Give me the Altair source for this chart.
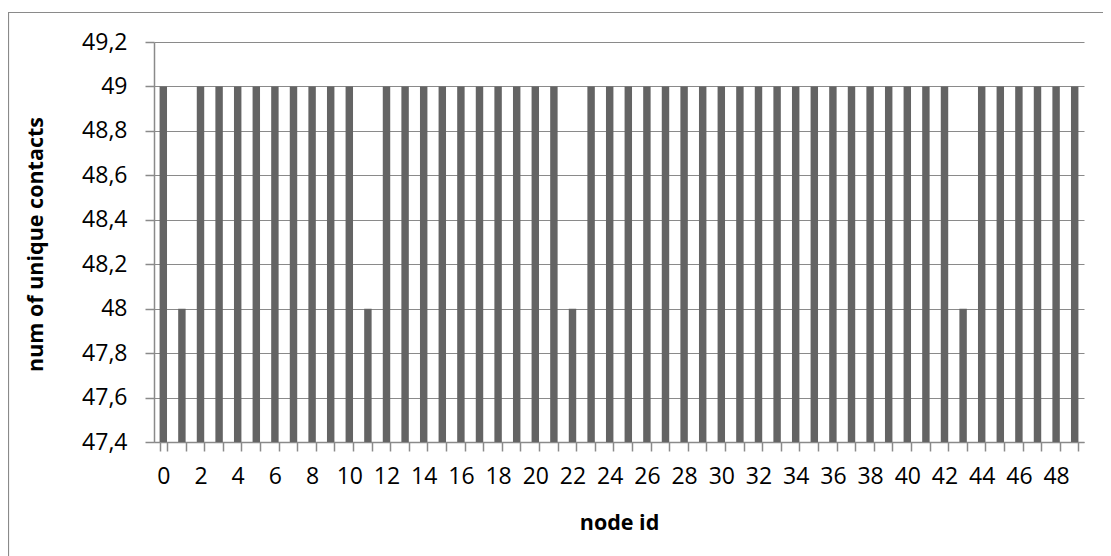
import altair as alt
import pandas as pd

node_ids = list(range(50))
contacts = [49, 48, 49, 49, 49, 49, 49, 49, 49, 49,
            49, 48, 49, 49, 49, 49, 49, 49, 49, 49,
            49, 49, 48, 49, 49, 49, 49, 49, 49, 49,
            49, 49, 49, 49, 49, 49, 49, 49, 49, 49,
            49, 49, 49, 48, 49, 49, 49, 49, 49, 49]

df = pd.DataFrame({"node": node_ids, "contacts": contacts})

FONT = "Open Sans"
GRAY = "#8a8a8a"

border = alt.Chart(alt.Data(values=[{"k": 1}])).mark_rect(
    fillOpacity=0, stroke=GRAY, strokeWidth=1.2, clip=False
).encode(
    x=alt.value(-145.5), x2=alt.value(1200),
    y=alt.value(-29.5), y2=alt.value(700)
)

bars = alt.Chart(df).mark_bar(color="#646464", clip=True).encode(
    x=alt.X("node:O",
            scale=alt.Scale(paddingInner=0.6, paddingOuter=0.3),
            axis=alt.Axis(
                title="node id", labelAngle=0,
                labelExpr="datum.value % 2 == 0 ? datum.label : ''",
                labelOverlap=False, tickBand="extent",
                tickSize=9, tickColor=GRAY, domainColor=GRAY,
                labelPadding=14, labelFontSize=23, labelFont=FONT,
                labelColor="black",
                titleFont=FONT, titleFontSize=21.5, titleFontWeight="bold",
                titleColor="black", titleX=465, titleY=81,
                titleBaseline="middle", titleAlign="center",
            )),
    y=alt.Y("contacts:Q",
            scale=alt.Scale(domain=[47.4, 49.2], zero=False, nice=False),
            axis=alt.Axis(
                title="num of unique contacts",
                values=[47.4, 47.6, 47.8, 48.0, 48.2, 48.4, 48.6, 48.8, 49.0, 49.2],
                labelExpr="replace(toString(round(datum.value*10)/10), '.', ',')",
                tickSize=9, tickColor=GRAY, domainColor=GRAY,
                gridColor=GRAY, grid=True, labelPadding=18,
                labelFontSize=23, labelFont=FONT, labelColor="black",
                titleFont=FONT, titleFontSize=21.5, titleFontWeight="bold",
                titleColor="black", titleX=-118, titleY=202,
                titleAngle=-90, titleAlign="center", titleBaseline="middle",
            )),
)

chart = alt.layer(border, bars).properties(
    width=930, height=400,
    autosize=alt.AutoSizeParams(type="none"),
    padding={"left": 146, "top": 34, "right": 19, "bottom": 130},
).configure_view(stroke=None).configure_axis(gridWidth=1, domainWidth=1.5, tickWidth=1.5)

chart.save("out.html", embed_options={"renderer": "svg", "actions": False})
